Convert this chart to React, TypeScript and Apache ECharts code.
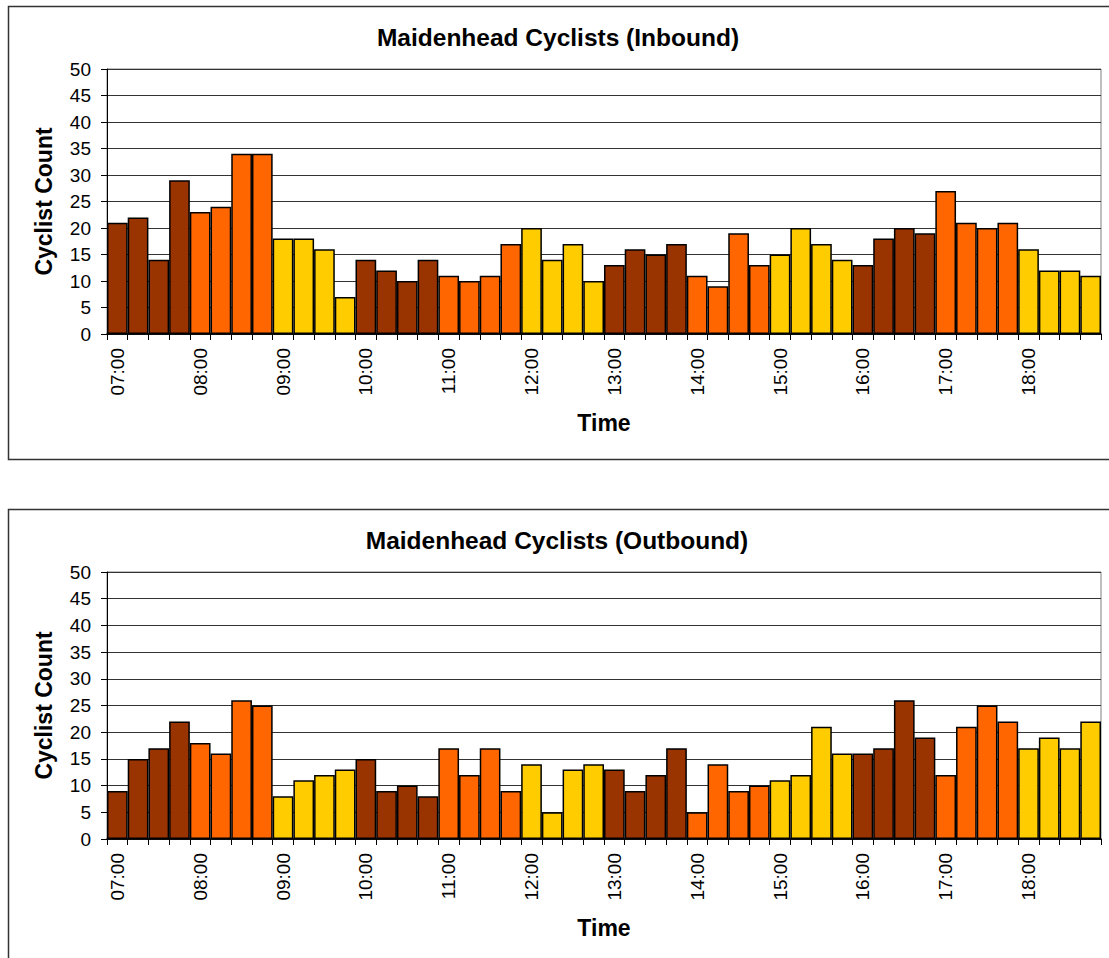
import React, { useEffect, useRef } from "react";
import * as echarts from "echarts";

const timeSlots = [
  "07:00", "07:15", "07:30", "07:45", "08:00", "08:15", "08:30", "08:45",
  "09:00", "09:15", "09:30", "09:45", "10:00", "10:15", "10:30", "10:45",
  "11:00", "11:15", "11:30", "11:45", "12:00", "12:15", "12:30", "12:45",
  "13:00", "13:15", "13:30", "13:45", "14:00", "14:15", "14:30", "14:45",
  "15:00", "15:15", "15:30", "15:45", "16:00", "16:15", "16:30", "16:45",
  "17:00", "17:15", "17:30", "17:45", "18:00", "18:15", "18:30", "18:45",
];

const inbound = [
  21, 22, 14, 29, 23, 24, 34, 34, 18, 18, 16, 7,
  14, 12, 10, 14, 11, 10, 11, 17, 20, 14, 17, 10,
  13, 16, 15, 17, 11, 9, 19, 13, 15, 20, 17, 14,
  13, 18, 20, 19, 27, 21, 20, 21, 16, 12, 12, 11,
];

const outbound = [
  9, 15, 17, 22, 18, 16, 26, 25, 8, 11, 12, 13,
  15, 9, 10, 8, 17, 12, 17, 9, 14, 5, 13, 14,
  13, 9, 12, 17, 5, 14, 9, 10, 11, 12, 21, 16,
  16, 17, 26, 19, 12, 21, 25, 22, 17, 19, 17, 22,
];

const titles = ["Maidenhead Cyclists (Inbound)", "Maidenhead Cyclists (Outbound)"];
const hourColors = ["#993300", "#FF6600", "#FFCC00"];
const yMin = 0;
const yMax = 50;
const yStep = 5;

const FONT = '"Liberation Sans", Arial, Helvetica, sans-serif';

export default function App() {
  const ref = useRef<HTMLDivElement>(null);

  useEffect(() => {
    if (!ref.current) return;
    const chart = echarts.init(ref.current, null, { renderer: "svg" });

    const grids = [
      { left: 107, top: 69, width: 994, height: 265 },
      { left: 107, top: 572, width: 994, height: 267 },
    ];

    const mkX = (gi: number) => ({
      type: "category",
      gridIndex: gi,
      data: timeSlots,
      boundaryGap: true,
      axisLine: { show: true, lineStyle: { color: "#000", width: 1.5 } },
      axisTick: { show: true, interval: 0, length: 6, lineStyle: { color: "#000", width: 1 } },
      axisLabel: {
        interval: 3,
        rotate: 90,
        margin: 14,
        fontSize: 19,
        color: "#000",
        fontFamily: FONT,
      },
      name: "Time",
      nameLocation: "middle",
      nameGap: 77,
      nameTextStyle: { fontSize: 23, fontWeight: "bold", color: "#000", fontFamily: FONT },
      splitLine: { show: false },
    });

    const mkY = (gi: number) => ({
      type: "value",
      gridIndex: gi,
      min: yMin,
      max: yMax,
      interval: yStep,
      axisLine: { show: true, lineStyle: { color: "#000", width: 1 } },
      axisTick: { show: true, length: 6, lineStyle: { color: "#000", width: 1 } },
      axisLabel: { margin: 16, fontSize: 19, color: "#000", fontFamily: FONT },
      splitLine: { show: true, lineStyle: { color: "#333", width: 1 } },
      name: "Cyclist Count",
      nameLocation: "middle",
      nameRotate: 90,
      nameGap: 52,
      nameTextStyle: { fontSize: 23, fontWeight: "bold", color: "#000", fontFamily: FONT },
    });

    const mkSeries = (gi: number, data: number[]) => ({
      type: "bar",
      xAxisIndex: gi,
      yAxisIndex: gi,
      data,
      barCategoryGap: "0%",
      itemStyle: {
        color: (p: any) => hourColors[Math.floor(p.dataIndex / 4) % 3],
        borderColor: "#000",
        borderWidth: 1.5,
      },
    });

    chart.setOption({
      animation: false,
      backgroundColor: "#fff",
      grid: grids.map((g) => ({
        ...g,
        show: true,
        borderColor: "#808080",
        borderWidth: 1,
        backgroundColor: "transparent",
      })),
      xAxis: [mkX(0), mkX(1)],
      yAxis: [mkY(0), mkY(1)],
      series: [mkSeries(0, inbound), mkSeries(1, outbound)],
      graphic: [
        {
          type: "rect",
          shape: { x: 8.5, y: 6.5, width: 1120, height: 453 },
          style: { fill: "none", stroke: "#333", lineWidth: 1.5 },
          silent: true,
          z: -1,
        },
        {
          type: "rect",
          shape: { x: 8.5, y: 509.5, width: 1120, height: 480 },
          style: { fill: "none", stroke: "#333", lineWidth: 1.5 },
          silent: true,
          z: -1,
        },
        {
          type: "text",
          x: 558,
          y: 37,
          style: {
            text: titles[0],
            font: `bold 24.5px ${FONT}`,
            fill: "#000",
            textAlign: "center",
            textVerticalAlign: "middle",
          },
        },
        {
          type: "text",
          x: 557,
          y: 540,
          style: {
            text: titles[1],
            font: `bold 24.5px ${FONT}`,
            fill: "#000",
            textAlign: "center",
            textVerticalAlign: "middle",
          },
        },
      ],
    });

    return () => chart.dispose();
  }, []);

  return (
    <div
      ref={ref}
      style={{ position: "absolute", left: 0, top: 0, width: 1109, height: 958, background: "#fff" }}
    />
  );
}
